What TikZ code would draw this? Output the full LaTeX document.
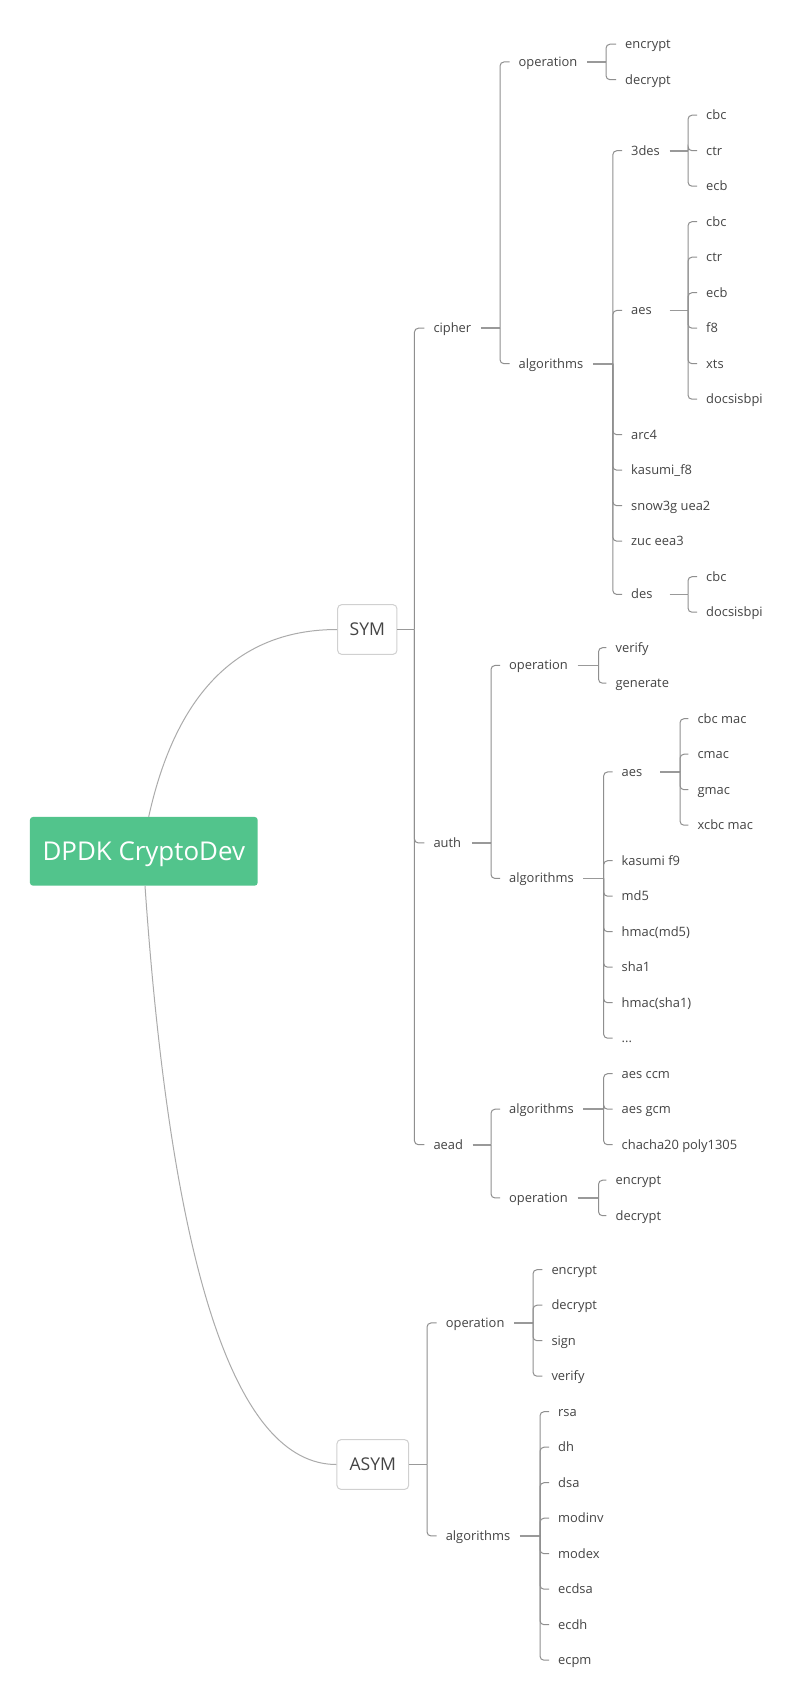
\documentclass[tikz,border=0pt]{standalone}
\usepackage{fontspec}
\setmainfont{Open Sans}
\usetikzlibrary{calc}
\definecolor{txt}{HTML}{444444}
\definecolor{stubc}{HTML}{999999}
\definecolor{barc}{HTML}{8F8F8F}
\definecolor{curvec}{HTML}{ABABAB}
\definecolor{rootg}{HTML}{52C48C}
\definecolor{boxb}{HTML}{D0D0D0}
\newcommand\leafsize{\fontsize{12.9}{15}\selectfont}
% branch from a text node: parent, bar x, children
\newcommand\brch[3]{%
  \draw[stubline] let \p1=(#1.east), \p2=(#1.west) in ({max(\x1+9.5pt,\x2+38.5pt)},\y1) -- (#2pt,\y1);
  \foreach \c in {#3}{\draw[barline] let \p1=(#1.east) in (#2pt,\y1) |- ($(\c.west)+(-9,0)$);}%
}
% branch from a box node
\newcommand\boxbrch[3]{%
  \draw[stubline] let \p1=(#1.east) in (\p1) -- (#2pt,\y1);
  \foreach \c in {#3}{\draw[barline] let \p1=(#1.east) in (#2pt,\y1) |- ($(\c.west)+(-9,0)$);}%
}
\begin{document}
\begin{tikzpicture}[x=1pt,y=-1pt,
  lf/.style={anchor=west,inner sep=0pt,text height=8.6pt,text depth=0pt,font=\leafsize,text=txt},
  stubline/.style={draw=stubc,line width=1.8pt},
  barline/.style={draw=barc,line width=1pt,rounded corners=4pt},
  curve/.style={draw=curvec,line width=1pt},
  rootbox/.style={fill=rootg,rounded corners=3pt,inner sep=0pt,minimum width=227.7pt,minimum height=68.7pt,
     text=white,font=\fontsize{25.9}{30}\selectfont,text height=18.5pt,text depth=0pt},
  catbox/.style={draw=boxb,fill=white,line width=1pt,rounded corners=4pt,inner sep=0pt,minimum height=49.7pt,
     text=txt,font=\fontsize{17.6}{20}\selectfont,text height=12.6pt,text depth=0pt}]
\fill[white] (0,0) rectangle (805,1703);
\path[use as bounding box] (0,0) rectangle (805,1703);

% main boxes
\node[rootbox] (root) at (143.8,851.3) {DPDK CryptoDev};
\node[catbox,minimum width=59.3pt] (sym) at (367.3,629.5) {SYM};
\node[catbox,minimum width=71.7pt] (asym) at (372.8,1464.5) {ASYM};

% level 2 under SYM
\node[lf] (cipher) at (433.3,328.2) {cipher};
\node[lf] (auth) at (433.3,842.95) {auth};
\node[lf] (aead) at (433.3,1144.7) {aead};

% cipher
\node[lf] (cop) at (518.5,61.95) {operation};
\node[lf] (calg) at (518.5,363.7) {algorithms};
\node[lf] (cenc) at (625,44.2) {encrypt};
\node[lf] (cdec) at (625,79.7) {decrypt};
\node[lf] (cTdes) at (631,150.7) {3des};
\node[lf] (cAes) at (631,310.45) {aes};
\node[lf] (cArc) at (631,434.7) {arc4};
\node[lf] (cKas) at (631,470.2) {kasumi\_f8};
\node[lf] (cSnow) at (631,505.7) {snow3g uea2};
\node[lf] (cZuc) at (631,541.2) {zuc eea3};
\node[lf] (cDes) at (631,594.45) {des};
\node[lf] (tCbc) at (706,115.2) {cbc};
\node[lf] (tCtr) at (706,150.7) {ctr};
\node[lf] (tEcb) at (706,186.2) {ecb};
\node[lf] (eCbc) at (706,221.7) {cbc};
\node[lf] (eCtr) at (706,257.2) {ctr};
\node[lf] (eEcb) at (706,292.7) {ecb};
\node[lf] (eFe) at (706,328.2) {f8};
\node[lf] (eXts) at (706,363.7) {xts};
\node[lf] (eDoc) at (706,399.2) {docsisbpi};
\node[lf] (dCbc) at (706,576.7) {cbc};
\node[lf] (dDoc) at (706,612.2) {docsisbpi};

% auth
\node[lf] (aop) at (509,665.45) {operation};
\node[lf] (aalg) at (509,878.45) {algorithms};
\node[lf] (aVer) at (615.4,647.7) {verify};
\node[lf] (aGen) at (615.4,683.2) {generate};
\node[lf] (aAes) at (621.5,771.95) {aes};
\node[lf] (aKas) at (621.5,860.7) {kasumi f9};
\node[lf] (aMd) at (621.5,896.2) {md5};
\node[lf] (aHmd) at (621.5,931.7) {hmac(md5)};
\node[lf] (aSha) at (621.5,967.2) {sha1};
\node[lf] (aHsha) at (621.5,1002.7) {hmac(sha1)};
\node[lf] (aDots) at (621.5,1038.2) {...};
\node[lf] (mCbc) at (697.4,718.7) {cbc mac};
\node[lf] (mCmac) at (697.4,754.2) {cmac};
\node[lf] (mGmac) at (697.4,789.7) {gmac};
\node[lf] (mXcbc) at (697.4,825.2) {xcbc mac};

% aead
\node[lf] (dalg) at (509,1109.2) {algorithms};
\node[lf] (dop) at (509,1197.95) {operation};
\node[lf] (dCcm) at (621.5,1073.7) {aes ccm};
\node[lf] (dGcm) at (621.5,1109.2) {aes gcm};
\node[lf] (dCha) at (621.5,1144.7) {chacha20 poly1305};
\node[lf] (dEnc) at (615.4,1180.2) {encrypt};
\node[lf] (dDec) at (615.4,1215.7) {decrypt};

% ASYM
\node[lf] (sop) at (445.6,1322.95) {operation};
\node[lf] (salg) at (445.6,1535.95) {algorithms};
\node[lf] (sEnc) at (551.3,1269.7) {encrypt};
\node[lf] (sDec) at (551.3,1305.2) {decrypt};
\node[lf] (sSign) at (551.3,1340.7) {sign};
\node[lf] (sVer) at (551.3,1376.2) {verify};
\node[lf] (sRsa) at (558,1411.7) {rsa};
\node[lf] (sDh) at (558,1447.2) {dh};
\node[lf] (sDsa) at (558,1482.7) {dsa};
\node[lf] (sInv) at (558,1518.2) {modinv};
\node[lf] (sExp) at (558,1553.7) {modex};
\node[lf] (sEcdsa) at (558,1589.2) {ecdsa};
\node[lf] (sEcdh) at (558,1624.7) {ecdh};
\node[lf] (sEcpm) at (558,1660.2) {ecpm};

% curves from root
\draw[curve] ($(root.north)+(4.9,0)$) .. controls (176.2,692.1) and (239.2,629.5) .. (sym.west);
\draw[curve] ($(root.south)+(1.2,0)$) .. controls (171.7,1271.6) and (235.7,1464.5) .. (asym.west);

% branches
\boxbrch{sym}{414.4}{cipher,auth,aead}
\brch{cipher}{500}{cop,calg}
\brch{cop}{606}{cenc,cdec}
\brch{calg}{612.8}{cTdes,cAes,cArc,cKas,cSnow,cZuc,cDes}
\brch{cTdes}{688}{tCbc,tCtr,tEcb}
\brch{cAes}{688}{eCbc,eCtr,eEcb,eFe,eXts,eDoc}
\brch{cDes}{688}{dCbc,dDoc}
\brch{auth}{491}{aop,aalg}
\brch{aop}{598.5}{aVer,aGen}
\brch{aalg}{603.6}{aAes,aKas,aMd,aHmd,aSha,aHsha,aDots}
\brch{aAes}{680}{mCbc,mCmac,mGmac,mXcbc}
\brch{aead}{491}{dalg,dop}
\brch{dalg}{603.6}{dCcm,dGcm,dCha}
\brch{dop}{598.5}{dEnc,dDec}
\boxbrch{asym}{427}{sop,salg}
\brch{sop}{533}{sEnc,sDec,sSign,sVer}
\brch{salg}{540}{sRsa,sDh,sDsa,sInv,sExp,sEcdsa,sEcdh,sEcpm}
\end{tikzpicture}
\end{document}
